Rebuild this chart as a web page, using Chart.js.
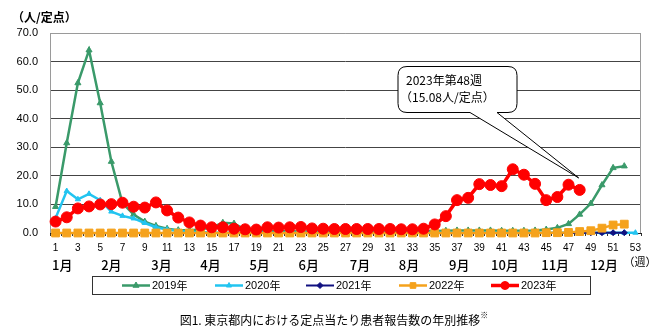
<!DOCTYPE html>
<html><head><meta charset="utf-8">
<script src="https://cdn.jsdelivr.net/npm/chart.js@4/dist/chart.umd.min.js"></script>
<style>html,body{margin:0;padding:0;background:#fff}#wrap{width:665px;height:331px}</style>
</head><body><div id="wrap"><canvas id="c" width="665" height="331"></canvas></div>
<script>
const weeks = ['1','2','3','4','5','6','7','8','9','10','11','12','13','14','15','16','17','18','19','20','21','22','23','24','25','26','27','28','29','30','31','32','33','34','35','36','37','38','39','40','41','42','43','44','45','46','47','48','49','50','51','52','53'];
const yTicks = [0,10,20,30,40,50,60,70];
const months = ['1月','2月','3月','4月','5月','6月','7月','8月','9月','10月','11月','12月'];
const monthWeeks = [1.6,6.0,10.5,14.9,19.3,23.7,28.3,32.7,37.2,41.3,45.8,50.2];
const seriesNames = ['2019年','2020年','2021年','2022年','2023年'];

const v2019 = [9.2,31.5,52.5,64.0,45.5,25.0,10.5,6.5,4.0,2.5,1.5,1.0,1.0,1.2,2.0,3.6,3.3,1.2,0.8,0.7,0.6,0.6,0.5,0.5,0.5,0.5,0.5,0.5,0.5,0.5,0.5,0.5,0.5,0.6,0.7,0.8,0.9,0.9,0.9,0.9,0.8,0.8,0.8,0.9,1.2,1.8,3.2,6.5,10.3,16.8,22.8,23.4,null];
const v2020 = [5.2,14.7,11.8,13.7,11.5,7.5,6.0,5.1,3.5,2.0,1.2,0.7,0.4,0.3,0.2,0.1,0.1,0.1,0.1,0.1,0.1,0.1,0.1,0.1,0.1,0.1,0.1,0.1,0.1,0.1,0.1,0.1,0.1,0.1,0.1,0.1,0.1,0.1,0.1,0.1,0.1,0.1,0.1,0.1,0.1,0.1,0.1,0.1,0.1,0.1,0.1,0.1,0.1];
const v2021 = [0.0,0.0,0.0,0.0,0.0,0.0,0.0,0.0,0.0,0.0,0.0,0.0,0.0,0.0,0.0,0.0,0.0,0.0,0.0,0.0,0.0,0.0,0.0,0.0,0.0,0.0,0.0,0.0,0.0,0.0,0.0,0.0,0.0,0.0,0.0,0.0,0.0,0.0,0.0,0.0,0.0,0.0,0.0,0.0,0.0,0.0,0.0,0.0,0.1,0.1,0.1,0.1,null];
const v2022 = [0.0,0.0,0.0,0.0,0.0,0.0,0.0,0.0,0.0,0.0,0.0,0.0,0.0,0.0,0.0,0.0,0.0,0.0,0.0,0.0,0.0,0.0,0.0,0.0,0.0,0.0,0.0,0.0,0.0,0.0,0.0,0.0,0.0,0.0,0.0,0.0,0.0,0.0,0.0,0.0,0.0,0.0,0.0,0.0,0.1,0.1,0.2,0.5,0.8,1.7,2.8,3.1,null];
const v2023 = [4.0,5.5,8.6,9.3,10.0,10.1,10.6,9.2,8.9,10.7,7.9,5.4,3.7,2.6,2.0,2.0,1.5,1.3,1.2,2.0,1.9,2.0,2.1,1.6,1.5,1.4,1.4,1.4,1.4,1.4,1.4,1.3,1.3,1.5,3.0,5.9,11.5,12.3,17.1,16.8,16.4,22.3,20.4,17.2,11.5,12.6,16.9,15.08];
const calloutLines = ['2023年第48週','（15.08人/定点）'];
const calloutWeekIndex = 47;

const colors = ['#3a9a6a','#22c4f0','#101080','#f5a21c','#ff0000'];
const styles = [
  {pointStyle:'triangle', radius:3.5, width:2.5},
  {pointStyle:'triangle', radius:3, width:2.5},
  {pointStyle:'rectRot', radius:3, width:2},
  {pointStyle:'rect', radius:5.5, width:2.5},
  {pointStyle:'circle', radius:5.5, width:3.5}
];
const allData = [v2019,v2020,v2021,v2022,v2023];

const datasets = allData.map((d,i)=>({
  label: seriesNames[i], data: d,
  borderColor: colors[i], backgroundColor: colors[i],
  borderWidth: styles[i].width,
  pointStyle: styles[i].pointStyle, pointRadius: styles[i].radius,
  pointBorderWidth: 1, pointBackgroundColor: colors[i], pointBorderColor: colors[i],
  tension: 0, clip: false, order: 5 - i, spanGaps: false
}));

const JP = '"Noto Sans CJK JP", sans-serif';
const NUM = '"Liberation Sans", Arial, sans-serif';

const decor = {
  id: 'decor',
  beforeDatasetsDraw(chart){
    const {ctx, chartArea:a} = chart;
    ctx.save();
    ctx.strokeStyle = '#9a9a9a'; ctx.lineWidth = 1;
    ctx.beginPath();
    ctx.moveTo(a.left+0.5, a.bottom); ctx.lineTo(a.left+0.5, a.top+0.5);
    ctx.lineTo(a.right-0.5, a.top+0.5); ctx.lineTo(a.right-0.5, a.bottom);
    ctx.stroke();
    ctx.restore();
  },
  afterDraw(chart){
    const {ctx, chartArea:a} = chart;
    const xs = chart.scales.x;
    const p0 = xs.getPixelForValue(0), step = xs.getPixelForValue(1) - p0;
    ctx.save();
    ctx.fillStyle = '#000';
    ctx.font = 'bold 12px ' + JP;
    ctx.textBaseline = 'middle'; ctx.textAlign = 'left';
    ctx.fillText('（人/定点）', 12, 17);
    ctx.font = '500 13px ' + JP;
    ctx.textAlign = 'center';
    months.forEach((m,i)=>{ ctx.fillText(m, p0 + (monthWeeks[i]-1)*step, 265); });
    ctx.font = '11px ' + JP;
    ctx.fillText('（週）', 640, 262);
    ctx.strokeStyle = '#333'; ctx.lineWidth = 1;
    ctx.strokeRect(92.5, 276.5, 498, 18);
    const lx = [122, 215, 306, 399, 491];
    ctx.font = '11px ' + NUM;
    ctx.textAlign = 'left';
    seriesNames.forEach((n,i)=>{
      const y = 285.5;
      ctx.strokeStyle = colors[i]; ctx.lineWidth = styles[i].width;
      ctx.beginPath(); ctx.moveTo(lx[i], y); ctx.lineTo(lx[i]+28, y); ctx.stroke();
      ctx.fillStyle = colors[i]; ctx.strokeStyle = colors[i]; ctx.lineWidth = 1;
      Chart.helpers.drawPoint(ctx, {pointStyle: styles[i].pointStyle, radius: Math.min(styles[i].radius, 4), rotation: 0, borderWidth: 1}, lx[i]+14, y);
      ctx.fillStyle = '#000';
      ctx.fillText(n.replace('年',''), lx[i]+30, y);
      const w = ctx.measureText(n.replace('年','')).width;
      ctx.font = '11px ' + JP;
      ctx.fillText('年', lx[i]+30+w, y);
      ctx.font = '11px ' + NUM;
    });
    ctx.font = '12px ' + JP;
    ctx.textAlign = 'center';
    ctx.fillStyle = '#000';
    ctx.fillText('図1. 東京都内における定点当たり患者報告数の年別推移', 330, 320);
    const cw = ctx.measureText('図1. 東京都内における定点当たり患者報告数の年別推移').width;
    ctx.font = '8px ' + JP;
    ctx.textAlign = 'left';
    ctx.fillText('※', 330 + cw/2, 315);
    const pt = chart.getDatasetMeta(4).data[calloutWeekIndex];
    const tip = {x: pt.x - 1, y: pt.y - 12};
    const bx = 398, by = 66.5, bw = 119, bh = 46, r = 9;
    ctx.fillStyle = '#fff'; ctx.strokeStyle = '#000'; ctx.lineWidth = 1;
    ctx.beginPath();
    ctx.moveTo(bx + r, by);
    ctx.lineTo(bx + bw - r, by); ctx.quadraticCurveTo(bx+bw, by, bx+bw, by+r);
    ctx.lineTo(bx+bw, by+bh-r); ctx.quadraticCurveTo(bx+bw, by+bh, bx+bw-r, by+bh);
    ctx.lineTo(497, by+bh); ctx.lineTo(tip.x, tip.y); ctx.lineTo(470, by+bh);
    ctx.lineTo(bx + r, by+bh); ctx.quadraticCurveTo(bx, by+bh, bx, by+bh-r);
    ctx.lineTo(bx, by+r); ctx.quadraticCurveTo(bx, by, bx+r, by);
    ctx.closePath();
    ctx.fill(); ctx.stroke();
    ctx.fillStyle = '#000';
    ctx.font = '12px ' + JP;
    ctx.textAlign = 'left';
    ctx.fillText(calloutLines[0], 406, 80);
    ctx.fillText(calloutLines[1], 400, 97);
    ctx.restore();
  }
};

new Chart(document.getElementById('c'), {
  type: 'line',
  data: { labels: weeks, datasets },
  options: {
    responsive: false, animation: false,
    layout: { padding: { left: 0, top: 33, right: 24, bottom: 0 } },
    plugins: { legend: { display: false }, tooltip: { enabled: false } },
    scales: {
      x: {
        offset: true,
        grid: { display: true, drawOnChartArea: false, drawTicks: true, tickLength: 3, color: '#333', offset: true },
        border: { display: true, color: '#222', width: 1 },
        ticks: { autoSkip: false, maxRotation: 0, minRotation: 0, padding: 6, color: '#000',
          font: { family: NUM, size: 10 },
          callback: (v, i) => (i % 2 === 0 ? weeks[i] : '') },
        afterFit: s => { s.height = 98; }
      },
      y: {
        min: 0, max: 70,
        afterBuildTicks: s => { s.ticks = yTicks.map(v => ({ value: v })); },
        grid: { drawTicks: false, color: c => (c.tick && c.tick.value === 70 ? '#9a9a9a' : '#444'), lineWidth: 1 },
        border: { display: false },
        ticks: { padding: 12, color: '#000', font: { family: NUM, size: 11 },
          callback: v => Number(v).toFixed(1) },
        afterFit: s => { s.width = 50; }
      }
    }
  },
  plugins: [decor]
});
</script>
</body></html>
